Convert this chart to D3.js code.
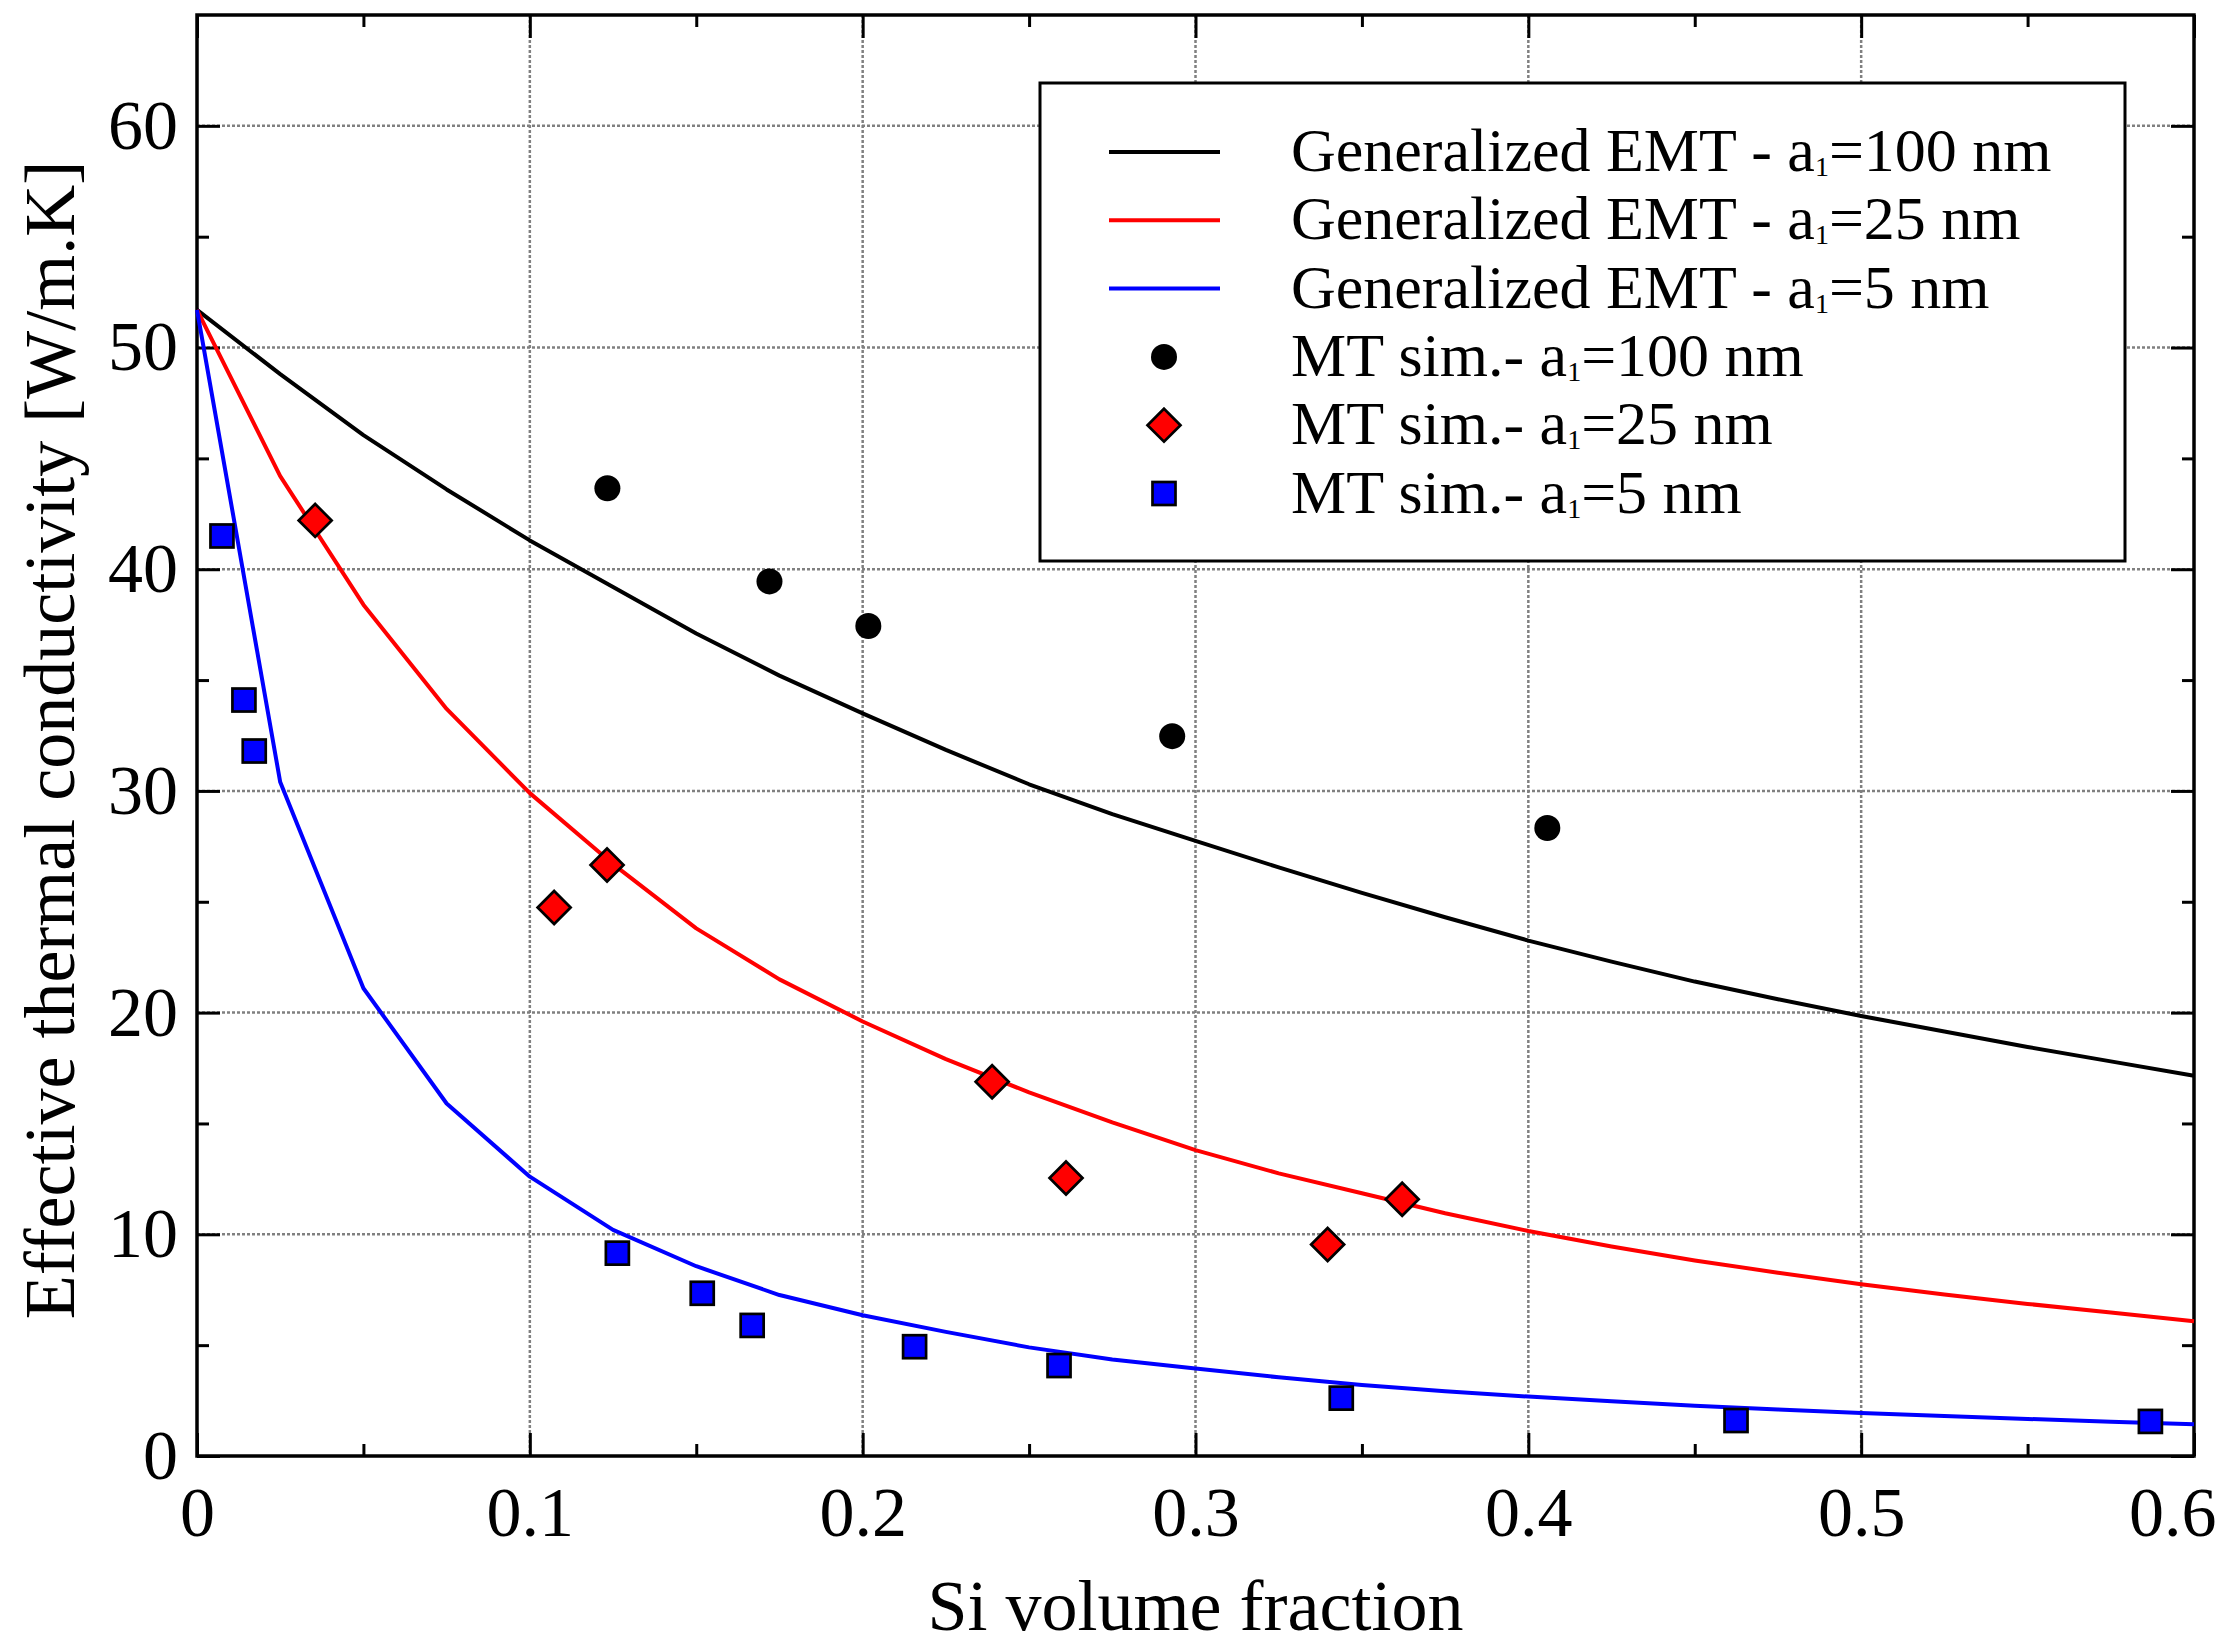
<!DOCTYPE html>
<html>
<head>
<meta charset="utf-8">
<script src="https://cdn.jsdelivr.net/npm/d3@7"></script>
<style>
	body { margin: 0; background: #fff; }
	svg text { font-family: "Liberation Serif", "Times New Roman", serif; fill: #000; }
</style>
</head>
<body>
<svg id="chart"></svg>
<script>
/* Effective thermal conductivity vs Si volume fraction */

// x positions shared by the three EMT curves
var emtX = [0, 0.025, 0.05, 0.075, 0.1, 0.125, 0.15, 0.175, 0.2, 0.225, 0.25, 0.275, 0.3,
	0.325, 0.35, 0.375, 0.4, 0.425, 0.45, 0.475, 0.5, 0.525, 0.55, 0.575, 0.6];
// Generalized EMT, a1 = 100 nm / 25 nm / 5 nm
var emt100 = [51.7, 48.8, 46.05, 43.6, 41.3, 39.2, 37.1, 35.2, 33.5, 31.85, 30.3, 28.95, 27.75,
	26.55, 25.4, 24.3, 23.25, 22.3, 21.4, 20.6, 19.85, 19.15, 18.45, 17.8, 17.15];
var emt25  = [51.7, 44.2, 38.4, 33.7, 29.9, 26.7, 23.8, 21.5, 19.6, 17.9, 16.4, 15.05, 13.8,
	12.75, 11.85, 10.95, 10.15, 9.45, 8.82, 8.27, 7.75, 7.28, 6.86, 6.47, 6.08];
var emt5   = [51.7, 30.4, 21.1, 15.9, 12.6, 10.2, 8.56, 7.26, 6.35, 5.6, 4.9, 4.35, 3.95,
	3.55, 3.2, 2.92, 2.68, 2.47, 2.27, 2.1, 1.94, 1.8, 1.67, 1.55, 1.43];

// MT simulations
var mt100X = [0.1233, 0.172, 0.2017, 0.293, 0.4057];
var mt100Y = [43.65, 39.45, 37.44, 32.47, 28.33];
var mt25X = [0.0355, 0.1073, 0.1232, 0.2389, 0.2611, 0.3397, 0.3621];
var mt25Y = [42.2, 24.74, 26.66, 16.88, 12.54, 9.54, 11.58];
var mt5X = [0.0075, 0.0141, 0.0172, 0.1263, 0.1518, 0.1668, 0.2156, 0.259, 0.3438, 0.4624, 0.5869];
var mt5Y = [41.5, 34.1, 31.8, 9.15, 7.34, 5.89, 4.93, 4.08, 2.61, 1.6, 1.56];

var xMajor = [0, 0.1, 0.2, 0.3, 0.4, 0.5, 0.6];
var xMinor = [0.05, 0.15, 0.25, 0.35, 0.45, 0.55];
var yMajor = [0, 10, 20, 30, 40, 50, 60];
var yMinor = [5, 15, 25, 35, 45, 55];

var xTitle = "Si volume fraction";
var yTitle = "Effective thermal conductivity [W/m.K]";

var legendPre = ["Generalized EMT - a", "Generalized EMT - a", "Generalized EMT - a", "MT sim.- a", "MT sim.- a", "MT sim.- a"];
var legendSub = ["1", "1", "1", "1", "1", "1"];
var legendPost = ["=100 nm", "=25 nm", "=5 nm", "=100 nm", "=25 nm", "=5 nm"];
var legendKind = ["line", "line", "line", "circle", "diamond", "square"];
var legendColor = ["#000000", "#ff0000", "#0000ff", "#000000", "#ff0000", "#0000ff"];


var totalW = 2233, totalH = 1648;
var margin = {top: 15, right: 39, bottom: 192, left: 197},
	width = totalW - margin.left - margin.right,
	height = totalH - margin.top - margin.bottom;

var x = d3.scaleLinear().domain([0, 0.6]).range([0, width]);
var y = d3.scaleLinear().domain([0, 65]).range([height, 0]);

var svg = d3.select("#chart")
	.attr("width", totalW)
	.attr("height", totalH);

var chart = svg.append("g")
	.attr("transform", "translate(" + margin.left + "," + margin.top + ")");

// Grid
chart.append("g")
	.selectAll("line")
	.data(xMajor.slice(1, -1))
  .enter().append("line")
	.attr("x1", function(d) { return x(d); })
	.attr("x2", function(d) { return x(d); })
	.attr("y1", 0)
	.attr("y2", height)
	.attr("stroke", "#808080")
	.attr("stroke-width", 2.5)
	.attr("stroke-dasharray", "3,2");
chart.append("g")
	.selectAll("line")
	.data(yMajor.slice(1))
  .enter().append("line")
	.attr("x1", 0)
	.attr("x2", width)
	.attr("y1", function(d) { return y(d); })
	.attr("y2", function(d) { return y(d); })
	.attr("stroke", "#808080")
	.attr("stroke-width", 2.5)
	.attr("stroke-dasharray", "3,2");

// Axes: inward ticks on all four sides
function styleAxis(g) {
	g.select(".domain").remove();
	g.selectAll("line").attr("stroke", "#000").attr("stroke-width", 3);
	g.attr("font-family", null).attr("font-size", 70);
}

var fmtX = function(d) { return d === 0 ? "0" : d3.format(".1f")(d); };

chart.append("g")
	.attr("class", "x axis")
	.attr("transform", "translate(0," + height + ")")
	.call(d3.axisBottom(x).tickValues(xMajor).tickSize(-23).tickPadding(30).tickFormat(fmtX))
	.call(styleAxis);
chart.append("g")
	.attr("transform", "translate(0," + height + ")")
	.call(d3.axisBottom(x).tickValues(xMinor).tickSize(-12).tickFormat(""))
	.call(styleAxis);
chart.append("g")
	.call(d3.axisTop(x).tickValues(xMajor).tickSize(-23).tickFormat(""))
	.call(styleAxis);
chart.append("g")
	.call(d3.axisTop(x).tickValues(xMinor).tickSize(-12).tickFormat(""))
	.call(styleAxis);

chart.append("g")
	.attr("class", "y axis")
	.call(d3.axisLeft(y).tickValues(yMajor).tickSize(-23).tickPadding(19).tickFormat(d3.format("d")))
	.call(styleAxis);
chart.append("g")
	.call(d3.axisLeft(y).tickValues(yMinor).tickSize(-12).tickFormat(""))
	.call(styleAxis);
chart.append("g")
	.attr("transform", "translate(" + width + ",0)")
	.call(d3.axisRight(y).tickValues(yMajor).tickSize(-23).tickFormat(""))
	.call(styleAxis);
chart.append("g")
	.attr("transform", "translate(" + width + ",0)")
	.call(d3.axisRight(y).tickValues(yMinor).tickSize(-12).tickFormat(""))
	.call(styleAxis);

// last x label is pulled inside the picture
chart.select(".x.axis").selectAll(".tick text")
	.filter(function(d) { return d === 0.6; })
	.attr("text-anchor", "end")
	.attr("x", 22);

// Frame
chart.append("rect")
	.attr("x", 0).attr("y", 0)
	.attr("width", width).attr("height", height)
	.attr("fill", "none")
	.attr("stroke", "#000")
	.attr("stroke-width", 3.5);

// Axis titles
chart.append("text")
	.attr("x", width / 2)
	.attr("y", 1630 - margin.top)
	.attr("text-anchor", "middle")
	.attr("font-size", 72)
	.text(xTitle);
chart.append("text")
	.attr("transform", "rotate(-90)")
	.attr("x", -(740 - margin.top))
	.attr("y", 74 - margin.left)
	.attr("text-anchor", "middle")
	.attr("font-size", 72)
	.text(yTitle);

// Curves
var valueline = d3.line()
	.x(function(d) { return x(d[0]); })
	.y(function(d) { return y(d[1]); });

[[emt100, "#000000"], [emt25, "#ff0000"], [emt5, "#0000ff"]].forEach(function(s) {
	chart.append("path")
		.datum(d3.zip(emtX, s[0]))
		.attr("fill", "none")
		.attr("stroke", s[1])
		.attr("stroke-width", 4)
		.attr("stroke-linejoin", "round")
		.attr("d", valueline);
});

// Markers
function drawMarker(g, kind, color) {
	if (kind == "circle") {
		g.append("circle").attr("r", 13).attr("fill", color);
	} else if (kind == "diamond") {
		g.append("path").attr("d", "M0,-16.5L16.5,0L0,16.5L-16.5,0Z")
			.attr("fill", color).attr("stroke", "#000").attr("stroke-width", 2.7);
	} else if (kind == "square") {
		g.append("rect").attr("x", -11.5).attr("y", -11.5).attr("width", 23).attr("height", 23)
			.attr("fill", color).attr("stroke", "#000").attr("stroke-width", 2.7);
	}
}

[[mt100X, mt100Y, "circle", "#000000"], [mt25X, mt25Y, "diamond", "#ff0000"], [mt5X, mt5Y, "square", "#0000ff"]].forEach(function(s) {
	chart.append("g")
		.selectAll("g")
		.data(d3.zip(s[0], s[1]))
	  .enter().append("g")
		.attr("transform", function(d) { return "translate(" + x(d[0]) + "," + y(d[1]) + ")"; })
		.each(function() { drawMarker(d3.select(this), s[2], s[3]); });
});

// Legend
var lg = svg.append("g").attr("transform", "translate(1040,83)");
lg.append("rect")
	.attr("width", 1085).attr("height", 478)
	.attr("fill", "#fff")
	.attr("stroke", "#000")
	.attr("stroke-width", 3);

var rows = lg.selectAll(".lrow")
	.data(legendPre)
  .enter().append("g")
	.attr("class", "lrow")
	.attr("transform", function(d, i) { return "translate(0," + (69 + i * 68.3) + ")"; });

rows.each(function(d, i) {
	var r = d3.select(this);
	if (legendKind[i] == "line") {
		r.append("line").attr("x1", 69).attr("x2", 180)
			.attr("stroke", legendColor[i]).attr("stroke-width", 4);
	} else {
		drawMarker(r.append("g").attr("transform", "translate(124,0)"), legendKind[i], legendColor[i]);
	}
	var t = r.append("text")
		.attr("x", 251)
		.attr("y", 19)
		.attr("font-size", 62);
	t.append("tspan").text(legendPre[i]);
	t.append("tspan").attr("font-size", 28).attr("dy", 5).text(legendSub[i]);
	t.append("tspan").attr("dy", -5).text(legendPost[i]);
});
</script>
</body>
</html>
